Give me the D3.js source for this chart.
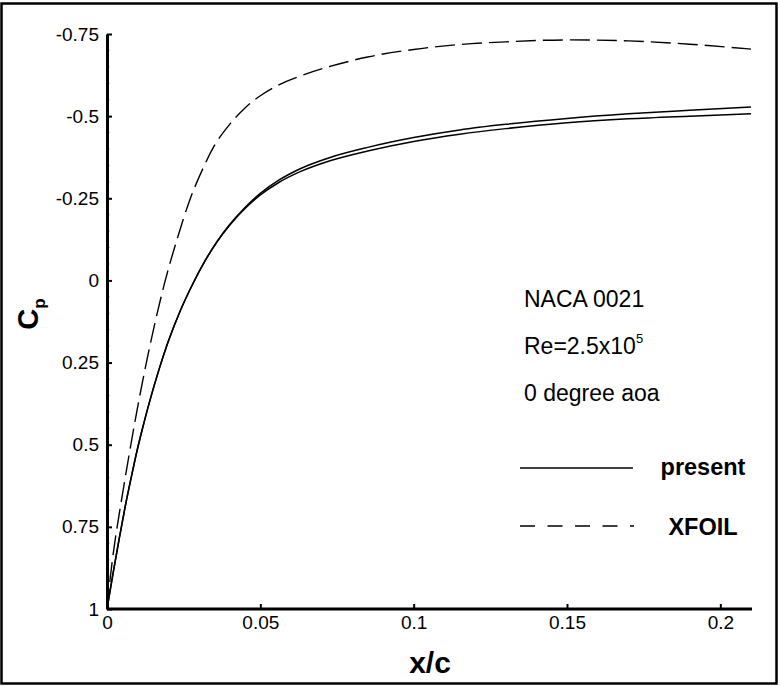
<!DOCTYPE html>
<html>
<head>
<meta charset="utf-8">
<script src="https://cdn.jsdelivr.net/npm/d3@7/dist/d3.min.js"></script>
<style>
  html, body { margin: 0; padding: 0; background: #fff; }
  svg { display: block; font-family: "Liberation Sans", Arial, sans-serif; }
</style>
</head>
<body>
<svg id="chart" width="781" height="686"></svg>
<script>
// ---- data ----
const yTicks = [-0.75, -0.5, -0.25, 0, 0.25, 0.5, 0.75, 1];
const yTickLabels = ["-0.75", "-0.5", "-0.25", "0", "0.25", "0.5", "0.75", "1"];
const xTicks = [0, 0.05, 0.1, 0.15, 0.2];
const xTickLabels = ["0", "0.05", "0.1", "0.15", "0.2"];

const presentX = [0, 0.002, 0.004, 0.006, 0.008, 0.010, 0.012, 0.014, 0.017, 0.020, 0.024, 0.028, 0.032, 0.036, 0.040, 0.045, 0.050, 0.056, 0.063, 0.073, 0.085, 0.100, 0.115, 0.130, 0.150, 0.170, 0.190, 0.210];
const presentUpperCp = [1, 0.89, 0.785, 0.685, 0.595, 0.51, 0.435, 0.365, 0.27, 0.185, 0.09, 0.01, -0.06, -0.12, -0.17, -0.222, -0.265, -0.305, -0.34, -0.375, -0.405, -0.435, -0.458, -0.475, -0.493, -0.507, -0.518, -0.528];
const presentLowerCp = [1, 0.89, 0.785, 0.685, 0.595, 0.51, 0.435, 0.365, 0.27, 0.185, 0.09, 0.01, -0.06, -0.119, -0.168, -0.219, -0.26, -0.298, -0.331, -0.365, -0.394, -0.423, -0.445, -0.462, -0.48, -0.492, -0.5, -0.507];

const xfoilX = [0, 0.001, 0.0025, 0.004, 0.0055, 0.0075, 0.0097, 0.0124, 0.0155, 0.019, 0.023, 0.027, 0.031, 0.035, 0.040, 0.045, 0.050, 0.056, 0.063, 0.073, 0.085, 0.100, 0.115, 0.130, 0.150, 0.170, 0.190, 0.210];
const xfoilCp = [1, 0.91, 0.8, 0.71, 0.625, 0.515, 0.4, 0.27, 0.135, 0, -0.13, -0.245, -0.335, -0.41, -0.475, -0.525, -0.562, -0.595, -0.622, -0.652, -0.68, -0.703, -0.718, -0.726, -0.732, -0.729, -0.719, -0.704];

const annotations = ["NACA 0021", "Re=2.5x10", "0 degree aoa"];
const legendLabels = ["present", "XFOIL"];

// ---- layout ----
const svg = d3.select("#chart");
const x = d3.scaleLinear().domain([0, 0.21]).range([107, 751]);
const y = d3.scaleLinear().domain([-0.75, 1]).range([34, 609]);

// outer frame
svg.append("rect").attr("x", 1.5).attr("y", 3.5).attr("width", 775).attr("height", 680)
  .attr("fill", "none").attr("stroke", "#000").attr("stroke-width", 2.5);

// minor y ticks
const minorY = d3.range(-0.75, 1.0001, 0.05).map(v => +v.toFixed(2)).filter(v => !yTicks.includes(v));
svg.append("g").selectAll("line").data(minorY).join("line")
  .attr("x1", x(0)).attr("x2", x(0) + 3).attr("y1", d => y(d)).attr("y2", d => y(d))
  .attr("stroke", "#bbb").attr("stroke-width", 1);

// axes
const yAxis = d3.axisLeft(y).tickValues(yTicks).tickFormat((d, i) => yTickLabels[i])
  .tickSizeInner(-5).tickSizeOuter(0).tickPadding(8);
const xAxis = d3.axisBottom(x).tickValues(xTicks).tickFormat((d, i) => xTickLabels[i])
  .tickSizeInner(-5).tickSizeOuter(0).tickPadding(7);

const gy = svg.append("g").attr("transform", `translate(${x(0)},0)`).call(yAxis);
const gx = svg.append("g").attr("transform", `translate(0,${y(1)})`).call(xAxis);
[gy, gx].forEach(g => {
  g.select(".domain").attr("stroke-width", 3).attr("stroke", "#000");
  g.selectAll(".tick line").attr("stroke-width", 2).attr("stroke", "#000");
  g.selectAll(".tick text").attr("font-size", 19).attr("fill", "#000")
    .attr("font-family", "Liberation Sans, Arial, sans-serif");
});
gx.select(".domain").attr("d", `M${x(0)},0H752`);

// curves
const line = d3.line().x(d => x(d[0])).y(d => y(d[1])).curve(d3.curveMonotoneX);
const curves = svg.append("g");
curves.append("path").datum(presentX.map((v, i) => [v, presentUpperCp[i]]))
  .attr("d", line).attr("fill", "none").attr("stroke", "#000").attr("stroke-width", 1.5);
curves.append("path").datum(presentX.map((v, i) => [v, presentLowerCp[i]]))
  .attr("d", line).attr("fill", "none").attr("stroke", "#000").attr("stroke-width", 1.5);
curves.append("path").datum(xfoilX.map((v, i) => [v, xfoilCp[i]]))
  .attr("d", line).attr("fill", "none").attr("stroke", "#000").attr("stroke-width", 1.4)
  .attr("stroke-dasharray", "20,7");

// axis titles
svg.append("text").attr("x", 430).attr("y", 673).attr("text-anchor", "middle")
  .attr("font-size", 30).attr("font-weight", "bold").text("x/c");
const cp = svg.append("text").attr("transform", "translate(38,314) rotate(-90)")
  .attr("text-anchor", "middle").attr("font-size", 29).attr("font-weight", "bold");
cp.append("tspan").text("C");
cp.append("tspan").attr("font-size", 17).attr("dy", 7).text("p");

// annotations
const ann = svg.append("g").attr("font-size", 23).attr("fill", "#000");
ann.append("text").attr("x", 524).attr("y", 307).text(annotations[0]);
const re = ann.append("text").attr("x", 524).attr("y", 354);
re.append("tspan").text(annotations[1]);
re.append("tspan").attr("font-size", 13).attr("dy", -11).text("5");
ann.append("text").attr("x", 524).attr("y", 401).text(annotations[2]);

// legend
svg.append("line").attr("x1", 520).attr("x2", 633).attr("y1", 468).attr("y2", 468)
  .attr("stroke", "#000").attr("stroke-width", 1.3);
svg.append("line").attr("x1", 520).attr("x2", 634).attr("y1", 526).attr("y2", 526)
  .attr("stroke", "#000").attr("stroke-width", 1.3).attr("stroke-dasharray", "15,12.5");
svg.append("text").attr("x", 703).attr("y", 475).attr("text-anchor", "middle")
  .attr("font-size", 23.5).attr("font-weight", "bold").text(legendLabels[0]);
svg.append("text").attr("x", 703).attr("y", 535).attr("text-anchor", "middle")
  .attr("font-size", 23.5).attr("font-weight", "bold").text(legendLabels[1]);
</script>
</body>
</html>
